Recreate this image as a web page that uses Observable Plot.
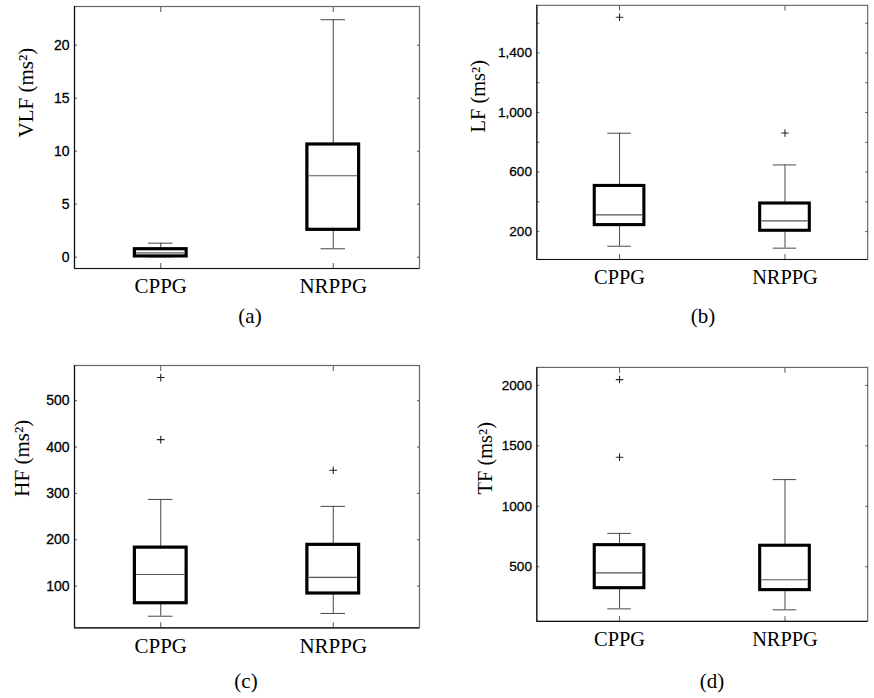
<!DOCTYPE html>
<html><head><meta charset="utf-8">
<script src="https://cdn.jsdelivr.net/npm/d3@7"></script>
<script src="https://cdn.jsdelivr.net/npm/@observablehq/plot@0.6"></script>
<style>
html,body{margin:0;padding:0;background:#fff;overflow:hidden;width:874px;height:698px;position:relative;}
.panel{position:absolute;}
.cap{position:absolute;font-family:"Liberation Serif","Times New Roman",serif;font-size:21px;line-height:21px;transform:translateX(-50%);color:#000;white-space:nowrap;}
</style></head><body>
<div id="pa" class="panel" style="left:0;top:0"></div>
<div id="pb" class="panel" style="left:437px;top:0"></div>
<div id="pc" class="panel" style="left:0;top:340px"></div>
<div id="pd" class="panel" style="left:437px;top:340px"></div>
<div class="cap" style="left:250px;top:306px">(a)</div>
<div class="cap" style="left:703px;top:306px">(b)</div>
<div class="cap" style="left:246px;top:671px">(c)</div>
<div class="cap" style="left:712px;top:671px">(d)</div>
<script>
// Groups (x categories)
const groups = ["CPPG", "NRPPG"];

// Box-plot statistics per group: [CPPG, NRPPG]
const vlfLow = [0.03, 0.79];
const vlfQ1 = [0.07, 2.58];
const vlfMedian = [0.40, 7.68];
const vlfQ3 = [0.75, 10.63];
const vlfHigh = [1.32, 22.4];
const vlfOutliers = [[], []];

const lfLow = [102, 89];
const lfQ1 = [244, 206];
const lfMedian = [313, 272];
const lfQ3 = [507, 389];
const lfHigh = [861, 648];
const lfOutliers = [[1640], [863]];

const hfLow = [35, 41];
const hfQ1 = [63, 84];
const hfMedian = [125, 119];
const hfQ3 = [183, 189];
const hfHigh = [287, 272];
const hfOutliers = [[550, 416], [350]];

const tfLow = [152, 144];
const tfQ1 = [323, 307];
const tfMedian = [449, 393];
const tfQ3 = [679, 674];
const tfHigh = [776, 1221];
const tfOutliers = [[2048, 1406], []];

// Axis ticks
const vlfTicks = [0, 5, 10, 15, 20];
const lfTicks = [200, 400, 600, 800, 1000, 1200, 1400, 1600];
const lfLabeled = [200, 600, 1000, 1400];
const hfTicks = [100, 200, 300, 400, 500];
const tfTicks = [500, 1000, 1500, 2000];

const serif = '"Liberation Serif","Times New Roman",serif';
const sans = '"Liberation Sans",Arial,Helvetica,sans-serif';

function rowsOf(low, q1, med, q3, high) {
  return groups.map((g, i) => ({group: g, pos: i + 1, low: low[i], q1: q1[i], median: med[i], q3: q3[i], high: high[i]}));
}
function outRows(outs) {
  const r = [];
  outs.forEach((arr, i) => arr.forEach(v => r.push({pos: i + 1, value: v})));
  return r;
}

function panel(o) {
  const rows = o.rows;
  const boxHalf = 0.15, capHalf = 0.071;
  const fmt = o.fmt || (d => String(d));
  return Plot.plot({
    width: o.width, height: o.height,
    marginLeft: o.mL, marginTop: o.mT, marginRight: o.mR, marginBottom: o.mB,
    style: {background: "white", overflow: "visible"},
    x: {type: "linear", domain: [0.5, 2.5]},
    y: {type: "linear", domain: o.yDomain, nice: false},
    marks: [
      Plot.frame({stroke: "#666", strokeWidth: 1.2}),
      // inward ticks on all sides
      Plot.axisY(o.yTicks, {anchor: "left", tickSize: 3, dx: 3, fill: "none", stroke: "#555", label: null}),
      Plot.axisY(o.yTicks, {anchor: "right", tickSize: 3, dx: -3, fill: "none", stroke: "#555", label: null}),
      Plot.axisX([1, 2], {anchor: "bottom", tickSize: 5, dy: -5, fill: "none", stroke: "#555", label: null}),
      Plot.axisX([1, 2], {anchor: "top", tickSize: 5, dy: 5, fill: "none", stroke: "#555", label: null}),
      // tick labels
      Plot.axisY(o.yTicks, {anchor: "left", tickSize: 0, tickPadding: 5, fontFamily: sans, fontSize: 14, fill: "#000",
        textStroke: "#000", textStrokeWidth: 0.3,
        tickFormat: d => (o.labeled ? (o.labeled.includes(d) ? fmt(d) : "") : fmt(d)), label: null}),
      Plot.axisX([1, 2], {anchor: "bottom", tickSize: 0, tickPadding: 10, fontFamily: serif, fontSize: 21, fill: "#000",
        tickFormat: d => groups[d - 1], label: null}),
      // axis lines left & bottom
      Plot.ruleX([0.5], {stroke: "#111", strokeWidth: 1.2}),
      Plot.ruleY([o.yDomain[0]], {stroke: "#111", strokeWidth: 1.2}),
      // whiskers
      Plot.ruleX(rows, {x: "pos", y1: "q3", y2: "high", stroke: "#444", strokeWidth: 1}),
      Plot.ruleX(rows, {x: "pos", y1: "low", y2: "q1", stroke: "#444", strokeWidth: 1}),
      Plot.ruleY(rows, {y: "high", x1: d => d.pos - capHalf, x2: d => d.pos + capHalf, stroke: "#444", strokeWidth: 1}),
      Plot.ruleY(rows, {y: "low", x1: d => d.pos - capHalf, x2: d => d.pos + capHalf, stroke: "#444", strokeWidth: 1}),
      // boxes
      Plot.rect(rows, {x1: d => d.pos - boxHalf, x2: d => d.pos + boxHalf, y1: "q1", y2: "q3", fill: "white", stroke: "#000", strokeWidth: 3.2}),
      Plot.ruleY(rows, {y: "median", x1: d => d.pos - boxHalf + 0.01, x2: d => d.pos + boxHalf - 0.01, stroke: "#555", strokeWidth: 1.2}),
      // outliers
      Plot.dot(o.outliers, {x: "pos", y: "value", symbol: "plus", r: 2.6, stroke: "#222", strokeWidth: 1.1}),
      // y label
      Plot.text([o.yLabel], {frameAnchor: "left", rotate: -90, dx: o.labelDx, fontFamily: serif, fontSize: 21, fill: "#000"})
    ]
  });
}

document.getElementById("pa").appendChild(panel({
  width: 437, height: 340, mL: 74, mT: 6, mR: 18, mB: 72,
  yDomain: [-1.07, 23.65], yTicks: vlfTicks,
  rows: rowsOf(vlfLow, vlfQ1, vlfMedian, vlfQ3, vlfHigh), outliers: outRows(vlfOutliers),
  yLabel: "VLF (ms²)", labelDx: -48
}));
document.getElementById("pb").appendChild(panel({
  width: 450, height: 340, mL: 102.3, mT: 5, mR: 7, mB: 73.3,
  yDomain: [13, 1720], yTicks: lfTicks, labeled: lfLabeled, fmt: d3.format(","),
  rows: rowsOf(lfLow, lfQ1, lfMedian, lfQ3, lfHigh), outliers: outRows(lfOutliers),
  yLabel: "LF (ms²)", labelDx: -60
}));
document.getElementById("pc").appendChild(panel({
  width: 437, height: 358, mL: 74, mT: 25, mR: 18, mB: 70.7,
  yDomain: [10, 576], yTicks: hfTicks,
  rows: rowsOf(hfLow, hfQ1, hfMedian, hfQ3, hfHigh), outliers: outRows(hfOutliers),
  yLabel: "HF (ms²)", labelDx: -52
}));
document.getElementById("pd").appendChild(panel({
  width: 450, height: 358, mL: 102.3, mT: 27.7, mR: 7, mB: 68.7,
  yDomain: [48, 2149], yTicks: tfTicks,
  rows: rowsOf(tfLow, tfQ1, tfMedian, tfQ3, tfHigh), outliers: outRows(tfOutliers),
  yLabel: "TF (ms²)", labelDx: -53
}));
</script>
</body></html>
